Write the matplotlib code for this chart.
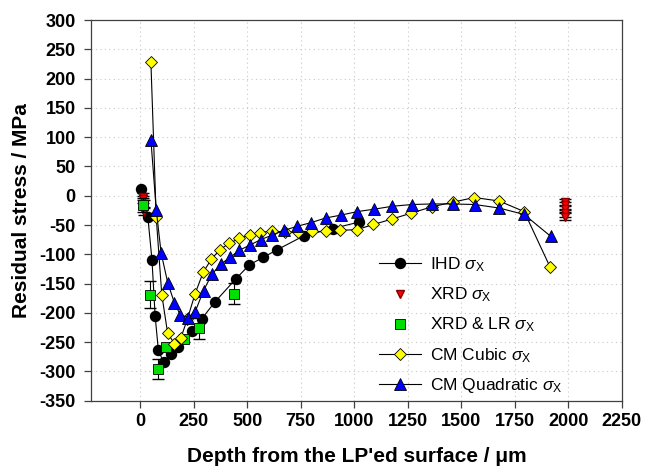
import matplotlib
matplotlib.use('Agg')
import matplotlib.pyplot as plt
from matplotlib.lines import Line2D

plt.rcParams['font.family'] = ['Liberation Sans', 'DejaVu Sans']
plt.rcParams['mathtext.fontset'] = 'custom'
plt.rcParams['mathtext.rm'] = 'Liberation Sans'
plt.rcParams['mathtext.it'] = 'Liberation Sans:italic'
plt.rcParams['axes.unicode_minus'] = False

# IHD sigma_x
ihd_depth = [5, 36, 55, 70, 85, 109, 143, 179, 241, 288, 350, 447, 510, 576, 641, 767, 900, 1022]
ihd_stress = [11, -37, -109, -206, -264, -284, -271, -258, -231, -210, -181, -142, -118, -105, -92, -68, -56, -45]

# XRD sigma_x
xrd_depth = [15, 15, 18, 18, 1984, 1984, 1984, 1984, 1984]
xrd_stress = [-2, -6, -14, -27, -11, -16, -22, -30, -36]
xrd_err = [6, 6, 6, 6, 6, 6, 6, 6, 6]

# XRD & LR sigma_x
lr_depth = [15, 48, 85, 121, 207, 275, 439]
lr_stress = [-15, -169, -296, -259, -244, -226, -167]
lr_err = [12, 23, 17, 0, 6, 18, 18]

# CM cubic sigma_x
cub_depth = [50, 75, 101, 128, 160, 190, 221, 257, 294, 333, 373, 417, 464, 512, 562, 615,
             677, 739, 801, 866, 935, 1012, 1090, 1175, 1263, 1362, 1460, 1561, 1677, 1794, 1914]
cub_stress = [229, -37, -169, -234, -253, -243, -210, -167, -131, -108, -92, -81, -73, -67, -63, -60,
              -62, -62, -61, -61, -59, -58, -49, -40, -30, -19, -11, -3, -9, -27, -121]

# CM quadratic sigma_x
quad_depth = [50, 75, 98, 129, 160, 187, 222, 257, 296, 335, 377, 420, 464, 514, 563, 618,
              674, 734, 798, 866, 939, 1015, 1093, 1177, 1268, 1362, 1460, 1564, 1677, 1794, 1917]
quad_stress = [96, -24, -98, -149, -183, -203, -208, -198, -162, -134, -117, -105, -93, -84, -75, -67,
               -59, -52, -46, -38, -33, -27, -23, -18, -15, -14, -14, -15, -21, -32, -69]

labels = [r'IHD $\sigma_\mathrm{X}$', r'XRD $\sigma_\mathrm{X}$', r'XRD & LR $\sigma_\mathrm{X}$',
          r'CM Cubic $\sigma_\mathrm{X}$', r'CM Quadratic $\sigma_\mathrm{X}$']

fig = plt.figure(figsize=(6.45, 4.67), dpi=100)
ax = fig.add_axes([0.141, 0.142, 0.823, 0.815])

lw = 0.8
ihd_style = dict(ls='-', marker='o', color='black', mfc='black', mec='black', ms=7.2, lw=lw)
xrd_style = dict(ls='none', marker='v', mfc='red', mec='#800000', ms=6)
lr_style = dict(ls='none', marker='s', mfc='#00e000', mec='black', mew=0.6, ms=7)
cub_style = dict(ls='-', marker='D', color='black', mfc='yellow', mec='black', mew=0.6, ms=6.2, lw=lw)
quad_style = dict(ls='-', marker='^', color='black', mfc='blue', mec='black', mew=0.6, ms=8, lw=lw)

ax.plot(ihd_depth, ihd_stress, zorder=3, **ihd_style)
ax.errorbar(xrd_depth, xrd_stress, yerr=xrd_err, fmt='none', ecolor='black',
            elinewidth=0.8, capsize=4, zorder=4)
ax.plot(xrd_depth, xrd_stress, zorder=4, **xrd_style)
ax.errorbar(lr_depth, lr_stress, yerr=lr_err, fmt='none', ecolor='black',
            elinewidth=0.8, capsize=4, zorder=5)
ax.plot(lr_depth, lr_stress, zorder=5, **lr_style)
ax.plot(cub_depth, cub_stress, zorder=6, **cub_style)
ax.plot(quad_depth, quad_stress, zorder=7, **quad_style)

ax.set_xlim(-230, 2250)
ax.set_ylim(-350, 300)
ax.set_xticks(range(0, 2251, 250))
ax.set_yticks(range(-350, 301, 50))
ax.grid(True, color='#c8c8c8', linestyle=(0, (1, 3)), linewidth=0.8)
ax.set_axisbelow(True)

for s in ax.spines.values():
    s.set_color('#404040')
    s.set_linewidth(0.9)
ax.tick_params(direction='out', length=5, width=0.9, color='#404040')
ax.tick_params(axis='x', pad=4)
ax.tick_params(axis='y', pad=6)
for lab in ax.get_xticklabels() + ax.get_yticklabels():
    lab.set_fontweight('bold')
    lab.set_fontsize(13)

ax.set_xlabel('Depth from the LP\'ed surface / \u03bcm', fontsize=15, fontweight='bold', labelpad=12)
ax.set_ylabel('Residual stress / MPa', fontsize=15, fontweight='bold', labelpad=6)

handles = [Line2D([], [], **st) for st in (ihd_style, xrd_style, lr_style, cub_style, quad_style)]
leg = ax.legend(handles, labels, loc='upper left', bbox_to_anchor=(0.588, 0.453),
                bbox_transform=fig.transFigure, frameon=False, fontsize=12.5,
                handlelength=2.4, handletextpad=0.55, labelspacing=0.66,
                borderpad=0, borderaxespad=0)

fig.savefig('out.png', dpi=100)
